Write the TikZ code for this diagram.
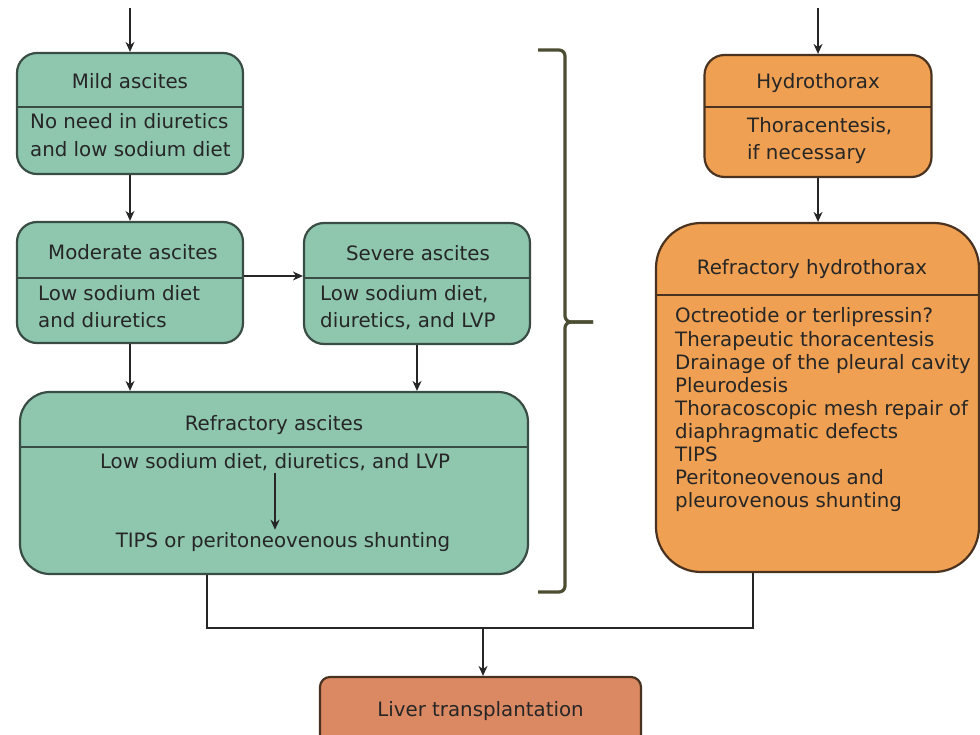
\documentclass[tikz,border=0pt]{standalone}
\usepackage{fontspec}
\setmainfont{DejaVu Sans}
\usetikzlibrary{arrows.meta}
\definecolor{gfill}{HTML}{8EC6AE}
\definecolor{gline}{HTML}{3A4D45}
\definecolor{ofill}{HTML}{EFA052}
\definecolor{oline}{HTML}{4A3220}
\definecolor{lfill}{HTML}{DB8962}
\definecolor{txt}{HTML}{262626}
\definecolor{brk}{HTML}{4D4D33}
\begin{document}
\begin{tikzpicture}[x=1pt,y=-1pt,
  every node/.style={font=\fontsize{19.8}{23.3}\selectfont, text=txt},
  gbox/.style={draw=gline, fill=gfill, line width=2.2pt, rounded corners=20pt, inner sep=0pt},
  obox/.style={draw=oline, fill=ofill, line width=2.2pt, rounded corners=20pt, inner sep=0pt},
  lbox/.style={draw=oline, fill=lfill, line width=2.2pt, rounded corners=10pt, inner sep=0pt},
  lbl/.style={anchor=base, inner sep=2pt},
  lbll/.style={anchor=base west, inner sep=2pt},
  gdiv/.style={draw=gline, line width=1.5pt},
  odiv/.style={draw=oline, line width=1.5pt},
  arr/.style={draw=black!85, line width=1.6pt, -{Stealth[length=10pt,width=9pt]}},
  conn/.style={draw=black!85, line width=1.6pt},
  brace/.style={draw=brk, line width=3.2pt, rounded corners=6pt}]
\useasboundingbox (0,0) rectangle (980,735);

% ---- Mild ascites
\node[gbox, minimum width=226pt, minimum height=121pt] (mild) at (130,113.5) {};
\draw[gdiv] (17,107) -- (243,107);
\node[lbl] (mildT) at (130,89) {Mild ascites};
\node[lbll] (mildB1) at (28,129) {No need in diuretics};
\node[lbll] (mildB2) at (28,157) {and low sodium diet};

% ---- Moderate ascites
\node[gbox, minimum width=226pt, minimum height=121pt] (moder) at (130,282.5) {};
\draw[gdiv] (17,278) -- (243,278);
\node[lbl] (moderT) at (133,260) {Moderate ascites};
\node[lbll] (moderB1) at (36,301) {Low sodium diet};
\node[lbll] (moderB2) at (36,327) {and diuretics};

% ---- Severe ascites
\node[gbox, minimum width=226pt, minimum height=121pt] (severe) at (417,283.5) {};
\draw[gdiv] (304,278) -- (530,278);
\node[lbl] (severeT) at (418,261) {Severe ascites};
\node[lbll] (severeB1) at (318,301) {Low sodium diet,};
\node[lbll] (severeB2) at (318,327) {diuretics, and LVP};

% ---- Refractory ascites
\node[gbox, rounded corners=30pt, minimum width=508pt, minimum height=182pt] (refasc) at (274,483) {};
\draw[gdiv] (20,447) -- (528,447);
\node[lbl] (refascT) at (274,430) {Refractory ascites};
\node[lbl] (refasc1) at (275,468) {Low sodium diet, diuretics, and LVP};
\node[lbl] (refasc2) at (283,547) {TIPS or peritoneovenous shunting};

% ---- Hydrothorax
\node[obox, minimum width=227pt, minimum height=122pt] (hydro) at (818,116) {};
\draw[odiv] (704.5,107) -- (931.5,107);
\node[lbl] (hydroT) at (818,89) {Hydrothorax};
\node[lbll] (hydroB1) at (745,133) {Thoracentesis,};
\node[lbll] (hydroB2) at (745,160) {if necessary};

% ---- Refractory hydrothorax
\node[obox, rounded corners=45pt, minimum width=323pt, minimum height=349pt] (refhyd) at (817.5,397.5) {};
\draw[odiv] (656,295) -- (979,295);
\node[lbl] (refhydT) at (812,275) {Refractory hydrothorax};
\foreach \t [count=\i] in {Octreotide or terlipressin?, Therapeutic thoracentesis,
  Drainage of the pleural cavity, Pleurodesis, Thoracoscopic mesh repair of,
  diaphragmatic defects, TIPS, Peritoneovenous and, pleurovenous shunting}
  \node[lbll] (rh\i) at (673,300+23*\i) {\t};

% ---- Liver transplantation
\node[lbox, minimum width=321pt, minimum height=68pt] (liver) at (480.5,711) {Liver transplantation};

% ---- brace
\draw[brace] (538,50) -- (565,50) -- (565,322) -- (593,322);
\draw[brace] (538,592) -- (565,592) -- (565,322) -- (593,322);

% ---- connectors
\coordinate (inL) at (130,8);
\coordinate (inR) at (818,8);
\coordinate (ay) at (0,276);
\draw[arr] (inL) -- (mild.north);
\draw[arr] (mild.south) -- (moder.north);
\draw[arr] (moder.east |- ay) -- (severe.west |- ay);
\draw[arr] (moder.south) -- (moder.south |- refasc.north);
\draw[arr] (severe.south) -- (severe.south |- refasc.north);
\draw[arr] (refasc1.south) -- (refasc1.south |- refasc2.north);
\draw[arr] (inR) -- (hydro.north);
\draw[arr] (hydro.south) -- (hydro.south |- refhyd.north);

\coordinate (j1) at (207,628);
\coordinate (j2) at (753,628);
\coordinate (jm) at (483,628);
\draw[conn] (refasc.south -| j1) -- (j1) -- (j2) -- (refhyd.south -| j2);
\draw[arr] (jm) -- (liver.north -| jm);
\end{tikzpicture}
\end{document}
